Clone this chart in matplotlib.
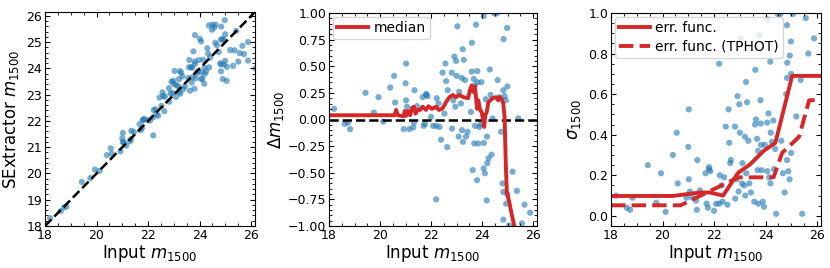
import matplotlib
matplotlib.use("Agg")
import matplotlib.pyplot as plt
import numpy as np
from matplotlib.ticker import AutoMinorLocator, MultipleLocator

# input magnitude and recovered offset (SExtractor - input) of each source
m_input = [
    18.20, 18.61, 18.74, 18.83, 19.43, 19.76, 19.94, 20.12, 20.40, 20.55,
    20.59, 20.93, 21.00, 21.02, 21.02, 21.06, 21.15, 21.30, 21.33, 21.35,
    21.45, 21.67, 21.71, 21.76, 21.80, 21.81, 21.86, 22.00, 22.08, 22.20,
    22.20, 22.22, 22.29, 22.33, 22.39, 22.45, 22.52, 22.56, 22.59, 22.63,
    22.65, 22.81, 22.82, 22.87, 22.91, 22.98, 23.00, 22.95, 23.03, 23.08,
    23.10, 23.17, 23.20, 23.24, 23.28, 23.21, 23.25, 23.33, 23.37, 23.43,
    23.56, 23.59, 23.60, 23.63, 23.67, 23.71, 23.72, 23.69, 23.76, 23.80,
    23.81, 23.82, 23.85, 23.89, 23.94, 23.97, 24.06, 24.06, 24.07, 24.11,
    24.14, 24.18, 24.19, 24.20, 24.25, 24.30, 24.33, 24.37, 24.41, 24.48,
    24.57, 24.61, 24.67, 24.74, 24.80, 24.83, 24.83, 24.83, 24.84, 24.88,
    24.93, 24.94, 24.98, 24.99, 24.99, 25.06, 25.19, 25.36, 25.42, 25.56,
    25.66, 25.88,
    23.82, 24.01, 24.36, 24.50, 24.62, 24.90, 25.05, 25.30, 25.50, 25.72,
    25.88, 26.17,
]
delta_m = [
    0.10, -0.04, -0.03, -0.09, 0.25, 0.065, 0.21, -0.02, 0.30, 0.41,
    0.16, -0.09, 0.34, 0.525, 0.18, 0.12, -0.09, -0.075, -0.03, 0.275,
    0.125, 0.21, -0.06, -0.04, 0.23, 0.24, 0.22, 0.025, -0.06, -0.06,
    -0.75, 0.20, 0.15, -0.07, -0.19, 0.44, 0.055, 0.525, 0.36, -0.26,
    0.275, 0.44, -0.085, 0.18, 0.59, 0.55, 0.41, 0.12, 0.875, -0.16,
    0.26, 0.15, 0.39, 0.66, 0.56, -0.10, -0.21, 0.37, -0.16, -0.115,
    0.07, 0.45, 0.72, -0.475, 0.38, 0.32, -0.06, -0.225, 0.89, -0.57,
    0.455, 0.35, -0.225, -0.07, -0.045, 0.35, 0.97, -0.46, -0.22, -0.505,
    0.19, -0.76, -0.16, -0.41, -0.365, 0.47, 0.23, -0.33, 0.01, 0.995,
    0.995, 0.37, 0.21, -0.115, -0.60, 0.275, -0.68, -0.94, 0.755, 0.22,
    0.18, -0.79, 0.86, 0.31, -0.70, -0.995, -0.49, -0.67, 0.01, -0.975,
    -0.80, -0.875,
    1.45, 1.12, 1.28, 1.17, 1.05, -1.30, -1.52, -1.20, -1.24, -1.17,
    -1.58, -2.17,
]

# running median of the offset
median_x = [
    18.0, 20.57, 20.63, 20.70, 20.92, 20.97, 21.02, 21.09, 21.18, 21.25,
    21.33, 21.39, 21.48, 21.57, 21.67, 21.80, 21.90, 22.03, 22.20, 22.30,
    22.43, 22.50, 22.59, 22.72, 22.85, 22.98, 23.10, 23.27, 23.45, 23.52,
    23.59, 23.65, 23.72, 23.76, 23.80, 23.85, 23.92, 23.98, 24.04, 24.08,
    24.12, 24.18, 24.25, 24.41, 24.54, 24.63, 24.69, 24.77, 24.83, 24.88,
    24.93, 24.97, 25.06, 25.15, 25.26, 25.32,
]
median_y = [
    0.04, 0.04, 0.09, 0.04, 0.03, 0.08, 0.035, 0.08, 0.04, 0.11,
    0.12, 0.055, 0.09, 0.09, 0.12, 0.09, 0.125, 0.10, 0.12, 0.09,
    0.10, 0.125, 0.165, 0.21, 0.23, 0.21, 0.23, 0.21, 0.20, 0.275,
    0.32, 0.26, 0.31, 0.21, 0.10, 0.18, 0.09, 0.07, 0.0, -0.07,
    0.04, 0.07, 0.165, 0.20, 0.21, 0.18, 0.21, 0.19, 0.15, 0.02,
    -0.44, -0.69, -0.77, -0.88, -1.0, -1.1,
]

# error functions
err_x = [18.0, 20.39, 21.44, 21.83, 22.35, 22.94, 23.40, 23.92, 24.38, 25.03, 26.2]
err_y = [0.098, 0.098, 0.115, 0.115, 0.10, 0.213, 0.254, 0.32, 0.36, 0.69, 0.69]
err_tphot_x = [18.0, 20.70, 21.80, 22.95, 24.31, 24.64, 25.30, 25.69, 26.2]
err_tphot_y = [0.052, 0.052, 0.12, 0.19, 0.19, 0.31, 0.39, 0.57, 0.57]

plt.rcParams["font.size"] = 9
plt.rcParams["xtick.direction"] = "in"
plt.rcParams["ytick.direction"] = "in"
plt.rcParams["xtick.top"] = True
plt.rcParams["ytick.right"] = True

x = np.array(m_input)
dm = np.array(delta_m)
red = "#d62728"
dot = dict(s=20, color="C0", alpha=0.6, edgecolors="none")
leg = dict(loc="upper left", fontsize=10, handlelength=2.2, borderpad=0.3,
           borderaxespad=0.3, handletextpad=0.4, labelspacing=0.3)

fig = plt.figure(figsize=(8.3, 2.68), dpi=100)
W, H = 830, 268
ax1 = fig.add_axes([45 / W, 1 - 226 / H, 210 / W, 214 / H])
ax2 = fig.add_axes([329 / W, 1 - 226 / H, 208 / W, 213 / H])
ax3 = fig.add_axes([611 / W, 1 - 226 / H, 210 / W, 213 / H])

xlim = (18, 26.15)

ax1.scatter(x, x + dm, **dot)
ax1.plot(xlim, xlim, "k--", lw=1.8)
ax1.set_xlim(xlim)
ax1.set_ylim(xlim)
ax1.xaxis.set_major_locator(MultipleLocator(2))
ax1.yaxis.set_major_locator(MultipleLocator(1))
ax1.set_ylabel("SExtractor $m_{1500}$", fontsize=12)

ax2.scatter(x, dm, **dot)
ax2.axhline(0, color="k", ls="--", lw=1.8)
ax2.plot(median_x, median_y, color=red, lw=2.8, label="median")
ax2.set_xlim(xlim)
ax2.set_ylim(-1, 1)
ax2.xaxis.set_major_locator(MultipleLocator(2))
ax2.yaxis.set_major_locator(MultipleLocator(0.25))
ax2.set_ylabel(r"$\Delta m_{1500}$", fontsize=12, labelpad=1)
ax2.legend(**leg)

ax3.scatter(x, np.abs(dm), **dot)
ax3.plot(err_x, err_y, color=red, lw=2.8, label="err. func.")
ax3.plot(err_tphot_x, err_tphot_y, color=red, lw=2.8, ls="--", label="err. func. (TPHOT)")
ax3.set_xlim(xlim)
ax3.set_ylim(-0.05, 1.0)
ax3.xaxis.set_major_locator(MultipleLocator(2))
ax3.yaxis.set_major_locator(MultipleLocator(0.2))
ax3.set_ylabel(r"$\sigma_{1500}$", fontsize=12)
ax3.legend(**leg)

for ax in (ax1, ax2, ax3):
    ax.set_xlabel("Input $m_{1500}$", fontsize=12, labelpad=1)
    ax.xaxis.set_minor_locator(AutoMinorLocator(4))
    ax.yaxis.set_minor_locator(AutoMinorLocator())
    ax.tick_params(which="minor", direction="in", top=True, right=True, length=2)
    ax.tick_params(which="major", length=3.5, pad=2)

fig.savefig("out.png", dpi=100)
